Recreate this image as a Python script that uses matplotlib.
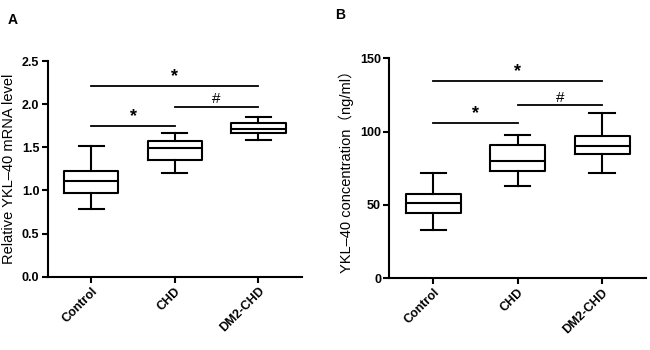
import matplotlib.pyplot as plt

plt.rcParams['font.family'] = ['Liberation Sans', 'Noto Sans CJK SC', 'DejaVu Sans']

groups = ['Control', 'CHD', 'DM2-CHD']

# Panel A: relative YKL-40 mRNA level (whisker low, Q1, median, Q3, whisker high)
mrna_low = [0.78, 1.20, 1.58]
mrna_q1 = [0.97, 1.35, 1.66]
mrna_med = [1.11, 1.49, 1.715]
mrna_q3 = [1.22, 1.575, 1.78]
mrna_high = [1.51, 1.66, 1.85]

# Panel B: serum YKL-40 concentration (ng/ml)
conc_low = [33, 63, 71.5]
conc_q1 = [44.5, 73, 84.7]
conc_med = [51, 80, 90]
conc_q3 = [57.5, 91, 97.2]
conc_high = [71.5, 97.7, 112.5]

# significance brackets: (from group, to group, height, symbol)
sig_a = [(0, 1, 1.745, '*'), (1, 2, 1.965, '#'), (0, 2, 2.21, '*')]
sig_b = [(0, 1, 105.8, '*'), (1, 2, 118, '#'), (0, 2, 134.7, '*')]


def stats(low, q1, med, q3, high):
    return [dict(whislo=a, q1=b, med=c, q3=d, whishi=e, fliers=[])
            for a, b, c, d, e in zip(low, q1, med, q3, high)]


def draw(ax, st, sig, ylim, ticks, fmt, ylabel, label_size, sym_off):
    lw = 1.5
    ax.bxp(st, positions=range(len(groups)), widths=0.65, showfliers=False,
           boxprops=dict(color='black', lw=lw),
           medianprops=dict(color='black', lw=lw),
           whiskerprops=dict(color='black', lw=lw),
           capprops=dict(color='black', lw=lw),
           capwidths=0.3)
    for x0, x1, h, s in sig:
        ax.plot([x0, x1], [h, h], color='black', lw=1.3)
        if s == '*':
            ax.text((x0 + x1) / 2, h + sym_off, s, ha='center', va='bottom',
                    fontsize=13, fontweight='bold')
        else:
            ax.text((x0 + x1) / 2, h + sym_off * 0.8, s, ha='center', va='bottom',
                    fontsize=11)
    ax.set_xlim(-0.52, 2.52)
    ax.set_ylim(*ylim)
    ax.set_yticks(ticks)
    ax.set_yticklabels([fmt.format(t) for t in ticks], fontweight='bold', fontsize=9)
    ax.set_xticks(range(len(groups)))
    ax.set_xticklabels(groups, rotation=45, ha='right', rotation_mode='anchor',
                       fontweight='bold', fontsize=9)
    ax.set_ylabel(ylabel, fontsize=label_size, labelpad=4)
    for side in ['top', 'right']:
        ax.spines[side].set_visible(False)
    for side in ['left', 'bottom']:
        ax.spines[side].set_linewidth(1.5)
    ax.tick_params(width=1.5, length=4, pad=2)


fig = plt.figure(figsize=(6.5, 3.5), dpi=100)
ax1 = fig.add_axes([0.0734, 0.2094, 0.3912, 0.6163])
ax2 = fig.add_axes([0.599, 0.205, 0.3948, 0.6284])

draw(ax1, stats(mrna_low, mrna_q1, mrna_med, mrna_q3, mrna_high), sig_a,
     (0, 2.5), [0, 0.5, 1.0, 1.5, 2.0, 2.5], '{:.1f}',
     'Relative YKL\u201340 mRNA level', 10.5, 0.01)
draw(ax2, stats(conc_low, conc_q1, conc_med, conc_q3, conc_high), sig_b,
     (0, 150), [0, 50, 100, 150], '{:.0f}',
     'YKL\u201340 concentration\uff08ng/ml\uff09', 10.5, 0.6)

fig.text(0.012, 0.93, 'A', fontweight='bold', fontsize=10)
fig.text(0.516, 0.945, 'B', fontweight='bold', fontsize=10)

fig.savefig('out.png', dpi=100)
